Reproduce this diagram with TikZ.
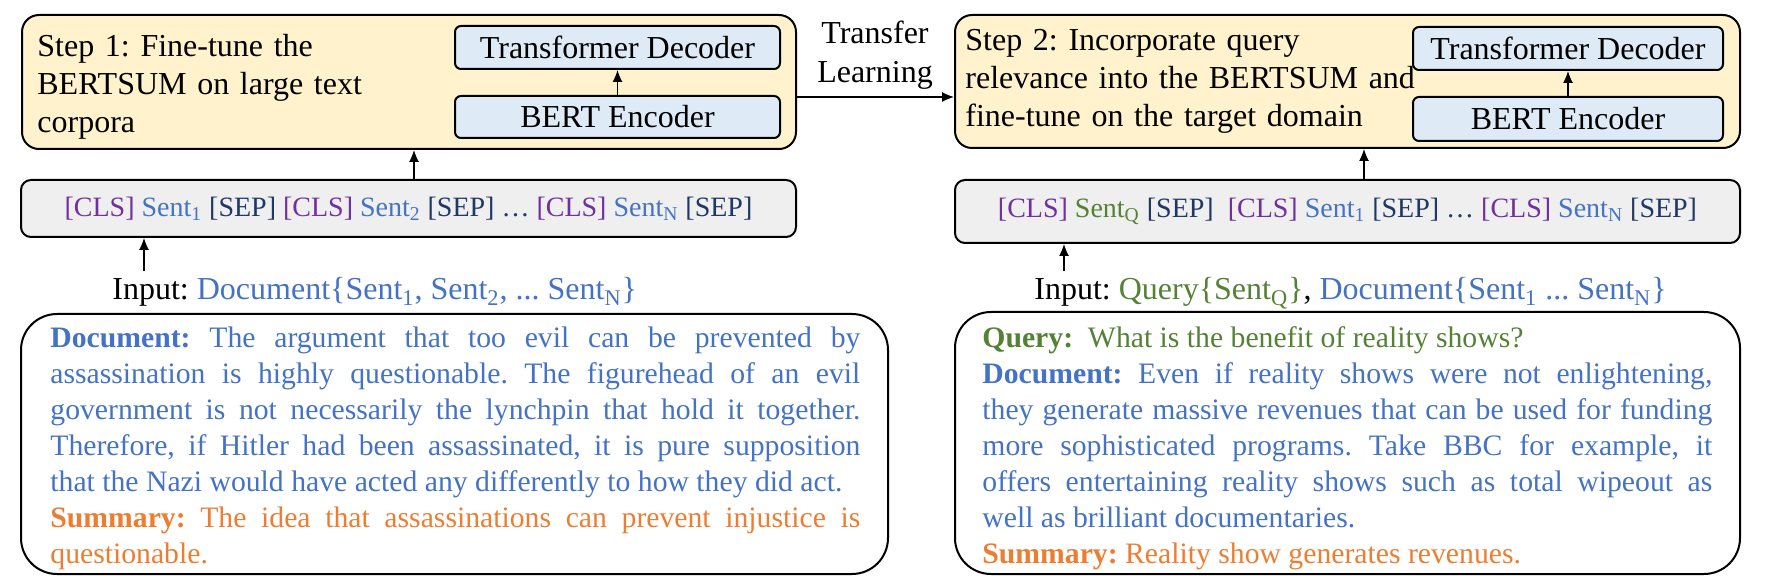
\documentclass[tikz,border=0pt]{standalone}
\usepackage{fontspec}
\setmainfont{Liberation Serif}
\usetikzlibrary{arrows.meta}
\definecolor{cblue}{HTML}{4472C4}
\definecolor{corange}{HTML}{ED7D31}
\definecolor{cgreen}{HTML}{548235}
\definecolor{cpurple}{HTML}{7030A0}
\definecolor{cnavy}{HTML}{203864}
\definecolor{cyellow}{HTML}{FFF2CC}
\definecolor{clblue}{HTML}{DEEBF7}
\definecolor{cgrey}{HTML}{EFEFEF}
\newcommand{\tcls}{\textcolor{cpurple}{[CLS]}}
\newcommand{\tsep}{\textcolor{cnavy}{[SEP]}}
\newcommand{\snt}[1]{Sent\textsubscript{#1}}
\hyphenpenalty=10000
\frenchspacing
\begin{document}
\begin{tikzpicture}[x=0.5pt,y=-0.5pt,
  stepbox/.style={draw, line width=1pt, fill=cyellow, rounded corners=8.5pt, inner sep=0},
  modbox/.style={draw, line width=1pt, fill=clblue, rounded corners=3pt, inner sep=0, font=\fontsize{16}{19}\selectfont},
  tokbox/.style={draw, line width=1pt, fill=cgrey, rounded corners=5pt, inner sep=0, font=\fontsize{14}{17}\selectfont},
  docbox/.style={draw, line width=1pt, rounded corners=18pt, inner sep=0},
  arr/.style={-{Latex[length=6pt,width=5pt]}, line width=0.6pt},
  bigtxt/.style={font=\fontsize{16}{19}\selectfont\frenchspacing, inner sep=0, align=left, anchor=base west, text width=240pt},
  inptxt/.style={font=\fontsize{16}{19}\selectfont, inner xsep=0, inner ysep=3pt, anchor=base west},
  doctxt/.style={font=\fontsize{14.85}{18}\selectfont\frenchspacing, inner sep=0, align=justify, anchor=base west}
]
\useasboundingbox (0,0) rectangle (1768,588);

% ---- Step 1 ----
\node[stepbox, minimum width=387pt, minimum height=67pt] (step1) at (409,82) {};
\node[bigtxt] (step1txt) at (37,57) {Step 1: Fine-tune the\\BERTSUM on large text\\corpora};
\node[modbox, minimum width=162.5pt, minimum height=21.5pt] (dec1) at (617.5,47.5) {Transformer Decoder};
\node[modbox, minimum width=162.5pt, minimum height=21pt] (enc1) at (617.5,117) {BERT Encoder};
\draw[arr] (enc1) -- (dec1);

% ---- Step 2 ----
\node[stepbox, minimum width=392.5pt, minimum height=66.5pt] (step2) at (1347.5,81.5) {};
\node[bigtxt] (step2txt) at (965,51) {Step 2: Incorporate query\\relevance into the BERTSUM and\\fine-tune on the target domain};
\node[modbox, minimum width=155pt, minimum height=21.5pt] (dec2) at (1568,48.5) {Transformer Decoder};
\node[modbox, minimum width=155pt, minimum height=22pt] (enc2) at (1568,119) {BERT Encoder};
\draw[arr] (enc2) -- (dec2);

% ---- Transfer learning ----
\node[font=\fontsize{16}{19.5}\selectfont, inner sep=0, align=center, text width=70pt, anchor=base] (trans) at (875,44) {Transfer\\Learning};
\draw[arr] ([yshift=-7.5pt]step1.east) -- ([yshift=-7.5pt]step1.east -| step2.west);

% ---- Token rows ----
\node[tokbox, minimum width=387.5pt, minimum height=28.5pt] (tok1) at (408.5,208.5)
  {\tcls{} \textcolor{cblue}{\snt{1}} \tsep{} \tcls{} \textcolor{cblue}{\snt{2}} \tsep{} \textcolor{cnavy}{…} \tcls{} \textcolor{cblue}{\snt{N}} \tsep};
\node[tokbox, minimum width=392.5pt, minimum height=31.5pt] (tok2) at (1347.5,211.5)
  {\tcls{} \textcolor{cgreen}{\snt{Q}} \tsep{}\ \ \tcls{} \textcolor{cblue}{\snt{1}} \tsep{} \textcolor{cnavy}{…} \tcls{} \textcolor{cblue}{\snt{N}} \tsep};
\draw[arr] ([xshift=2.75pt]tok1.north) -- ([xshift=2.75pt]tok1.north |- step1.south);
\draw[arr] ([xshift=8.25pt]tok2.north) -- ([xshift=8.25pt]tok2.north |- step2.south);

% ---- Inputs ----
\node[inptxt] (in1) at (112,300) {Input: \textcolor{cblue}{Document\{\snt{1}, \snt{2}, ... \snt{N}\}}};
\node[inptxt] (in2) at (1034,300) {Input: \textcolor{cgreen}{Query\{\snt{Q}\}}, \textcolor{cblue}{Document\{\snt{1} ... \snt{N}\}}};
\draw[arr] ([xshift=16pt]in1.north west) -- ([xshift=16pt]in1.north west |- tok1.south);
\draw[arr] ([xshift=15pt]in2.north west) -- ([xshift=15pt]in2.north west |- tok2.south);

% ---- Example boxes ----
\node[docbox, minimum width=433.5pt, minimum height=130pt] (doc1) at (454.5,444) {};
\node[doctxt, text width=405pt] (doc1txt) at (50,348) {\color{cblue}\textbf{Document:} The argument that too evil can be prevented by\linebreak assassination is highly questionable. The figurehead of an evil\linebreak government is not necessarily the lynchpin that hold it together.\linebreak Therefore, if Hitler had been assassinated, it is pure supposition\linebreak that the Nazi would have acted any differently to how they did act.\par
\textcolor{corange}{\textbf{Summary:} The idea that assassinations can prevent injustice is\linebreak questionable.}};

\node[docbox, minimum width=392.5pt, minimum height=131pt] (doc2) at (1347.5,443) {};
\node[doctxt, text width=365pt] (doc2txt) at (982,348) {\color{cblue}\textcolor{cgreen}{\textbf{Query:}\ \ What is the benefit of reality shows?}\par
\textbf{Document:} Even if reality shows were not enlightening,\linebreak they generate massive revenues that can be used for funding\linebreak more sophisticated programs. Take BBC for example, it\linebreak offers entertaining reality shows such as total wipeout as\linebreak well as brilliant documentaries.\par
\textcolor{corange}{\textbf{Summary:} Reality show generates revenues.}};
\end{tikzpicture}
\end{document}
